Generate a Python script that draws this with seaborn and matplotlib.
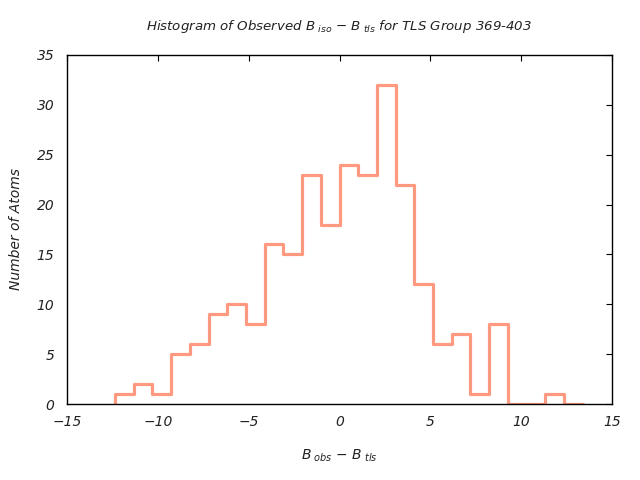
import numpy as np
import pandas as pd
import matplotlib
matplotlib.use("Agg")
import matplotlib.pyplot as plt
import seaborn as sns

# Data
bin_start = -12.36
bin_width = 1.03
counts = [1, 2, 1, 5, 6, 9, 10, 8, 16, 15, 23, 18, 24, 23, 32, 22, 12, 6, 7, 1, 8, 0, 0, 1, 0]
x_ticks = [-15, -10, -5, 0, 5, 10, 15]
y_ticks = [0, 5, 10, 15, 20, 25, 30, 35]

edges = [float(bin_start + bin_width * i) for i in range(len(counts) + 1)]
centers = [(edges[i] + edges[i + 1]) / 2 for i in range(len(counts))]
df = pd.DataFrame({"x": centers, "w": counts})

sns.set_style("white")
plt.rcParams["font.family"] = ["DejaVu Sans"]
plt.rcParams["mathtext.fontset"] = "dejavusans"

line_color = "#ff9980"
lw = 2.3
fig = plt.figure(figsize=(6.4, 4.8), dpi=100)
ax = fig.add_axes([67/640, 1-404/480, (612-67)/640, (404-55)/480])

sns.histplot(data=df, x="x", weights="w", bins=edges, element="step", fill=False,
             color=line_color, linewidth=lw, ax=ax)
# leading edge of the outline, from the first bin down to the baseline
ax.plot([edges[0], edges[0]], [0, counts[0]], color=line_color, linewidth=lw,
        solid_capstyle="butt")

ax.set_xlim(-15, 15)
ax.set_ylim(0, 35)
ax.set_xticks(x_ticks)
ax.set_yticks(y_ticks)
for s in ax.spines.values():
    s.set_visible(True)
    s.set_color("black")
    s.set_linewidth(1.0)
ax.tick_params(direction="in", length=4, top=True, right=True, labelsize=10,
               colors="black", labelcolor="#222222")
ax.tick_params(axis="x", pad=8)
ax.tick_params(axis="y", pad=9)
for lab in ax.get_xticklabels() + ax.get_yticklabels():
    lab.set_fontstyle("italic")

ax.set_title(r"Histogram of Observed $B_{\ iso}$ $-$ $B_{\ tls}$ for TLS Group 369-403",
             fontsize=9.6, style="italic", pad=18, color="#222222")
ax.set_xlabel(r"$B_{\ obs}$ $-$ $B_{\ tls}$", fontsize=10, style="italic", labelpad=13,
              color="#222222")
ax.set_ylabel("Number of Atoms", fontsize=10, style="italic", labelpad=10, color="#222222")

fig.savefig("out.png", dpi=100, facecolor="white")
